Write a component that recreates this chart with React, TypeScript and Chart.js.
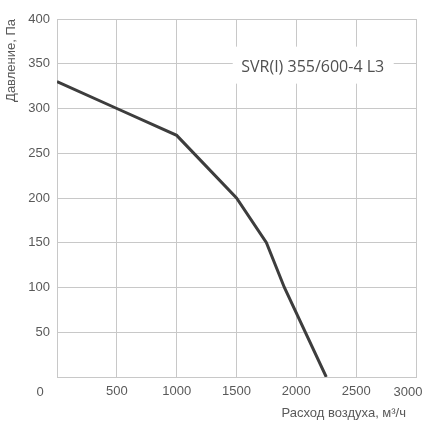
import React, { useEffect, useRef } from "react";
import { Chart, registerables } from "chart.js";

Chart.register(...registerables);

const flowValues: number[] = [0, 500, 1000, 1500, 1750, 1900, 2250];
const pressureValues: number[] = [330, 300, 270, 200, 150, 100, 0];
const xTickValues: number[] = [0, 500, 1000, 1500, 2000, 2500, 3000];
const yTickValues: number[] = [0, 50, 100, 150, 200, 250, 300, 350, 400];
const seriesLabel = "SVR(I) 355/600-4 L3";
const xTitle = "Расход воздуха, м³/ч";
const yTitle = "Давление, Па";

const TEXT = "#595959";
const GRID = "#c8c8c8";

const overlayPlugin = {
  id: "overlay",
  afterDraw(chart: any) {
    const { ctx, scales, chartArea } = chart;
    const xs = scales.x;
    const ys = scales.y;
    ctx.save();
    // corner "0" and shifted "3000"
    ctx.font = "13px 'Liberation Sans', Arial, sans-serif";
    ctx.fillStyle = TEXT;
    ctx.textAlign = "center";
    ctx.textBaseline = "middle";
    const labelY = chartArea.bottom + 15;
    ctx.fillText(String(xTickValues[0]), xs.getPixelForValue(xTickValues[0]) - 17, labelY);
    const last = xTickValues[xTickValues.length - 1];
    ctx.fillText(String(last), xs.getPixelForValue(last) - 8, labelY);
    // x axis title
    ctx.textAlign = "right";
    ctx.fillText(xTitle, chartArea.right - 10, chartArea.bottom + 36);
    // series label box
    const cx = xs.getPixelForValue(2137);
    const cy = ys.getPixelForValue(349);
    ctx.fillStyle = "#ffffff";
    ctx.fillRect(cx - 80, cy - 18, 161, 37);
    ctx.font = "16px 'Open Sans', sans-serif";
    ctx.fillStyle = "#505050";
    ctx.textAlign = "center";
    ctx.textBaseline = "alphabetic";
    ctx.fillText(seriesLabel, cx, cy + 7);
    ctx.restore();
  },
};

export default function App() {
  const ref = useRef<HTMLCanvasElement | null>(null);
  useEffect(() => {
    if (!ref.current) return;
    const chart = new Chart(ref.current, {
      type: "line",
      data: {
        datasets: [
          {
            label: seriesLabel,
            data: flowValues.map((x, i) => ({ x, y: pressureValues[i] })),
            borderColor: "#3d3d3d",
            borderWidth: 3,
            pointRadius: 0,
            tension: 0,
            fill: false,
          },
        ],
      },
      options: {
        animation: false,
        responsive: false,
        maintainAspectRatio: false,
        devicePixelRatio: 1,
        layout: { padding: { left: 0, right: 24, top: 19, bottom: 0 } },
        plugins: { legend: { display: false }, tooltip: { enabled: false } },
        scales: {
          x: {
            type: "linear",
            min: 0,
            max: 3000,
            afterBuildTicks: (s: any) => {
              s.ticks = xTickValues.map((v) => ({ value: v }));
            },
            afterFit: (s: any) => {
              s.height = 57;
            },
            ticks: {
              padding: 7,
              color: TEXT,
              font: { family: "'Liberation Sans', Arial, sans-serif", size: 13 },
              maxRotation: 0,
              callback: (v: any) =>
                v === xTickValues[0] || v === xTickValues[xTickValues.length - 1] ? "" : String(v),
            },
            grid: { color: GRID, lineWidth: 1, drawTicks: false },
            border: { color: GRID, width: 1 },
          },
          y: {
            type: "linear",
            min: 0,
            max: 400,
            afterBuildTicks: (s: any) => {
              s.ticks = yTickValues.map((v) => ({ value: v }));
            },
            afterFit: (s: any) => {
              s.width = 57;
            },
            ticks: {
              padding: 7,
              color: TEXT,
              font: { family: "'Liberation Sans', Arial, sans-serif", size: 13 },
              callback: (v: any) => (v === 0 ? "" : String(v)),
            },
            grid: { color: GRID, lineWidth: 1, drawTicks: false },
            border: { color: GRID, width: 1 },
            title: {
              display: true,
              text: yTitle,
              align: "end",
              color: TEXT,
              font: { family: "'Liberation Sans', Arial, sans-serif", size: 13 },
              padding: { top: 4, bottom: 0 },
            },
          },
        },
      },
      plugins: [overlayPlugin],
    });
    return () => chart.destroy();
  }, []);
  return (
    <div style={{ position: "fixed", left: 0, top: 0, width: 440, height: 434, background: "#fff" }}>
      <canvas ref={ref} width={440} height={434} style={{ width: 440, height: 434, display: "block" }} />
    </div>
  );
}
